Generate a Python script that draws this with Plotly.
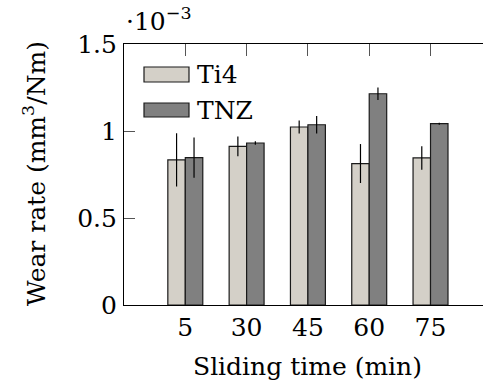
import plotly.graph_objects as go

# Data (wear rate in units of 1e-3 mm^3/Nm)
categories = ["5", "30", "45", "60", "75"]
ti4 = [0.834, 0.912, 1.023, 0.813, 0.845]
ti4_err = [0.153, 0.057, 0.038, 0.112, 0.068]
tnz = [0.847, 0.931, 1.036, 1.214, 1.042]
tnz_err = [0.115, 0.010, 0.050, 0.036, 0.006]
series_names = ["Ti4", "TNZ"]
y_ticks = [0, 0.5, 1, 1.5]
y_ticklabels = ["0", "0.5", "1", "1.5"]

FONT = "DejaVu Serif"
FS = 25
C_TI4 = "#d4d0c8"
C_TNZ = "#808080"
EDGE = "#1a1a1a"

fig = go.Figure()
for name, vals, errs, col in [(series_names[0], ti4, ti4_err, C_TI4),
                              (series_names[1], tnz, tnz_err, C_TNZ)]:
    fig.add_trace(go.Bar(
        x=categories, y=vals, name=name,
        marker=dict(color=col, line=dict(color=EDGE, width=1.2)),
        error_y=dict(type="data", array=errs, visible=True, color="black",
                     thickness=1.2, width=0),
        showlegend=False,
    ))

W, H = 483, 385
L, R, T, B = 124, 0, 44, 80
pw, ph = W - L - R, H - T - B

def px(x):
    return (x - L) / pw

def py(y):
    return (H - B - y) / ph

fig.update_layout(
    width=W, height=H,
    margin=dict(l=L, r=R, t=T, b=B, pad=0),
    paper_bgcolor="white", plot_bgcolor="white",
    barmode="group", bargap=0.43, bargroupgap=0,
    font=dict(family=FONT, size=FS, color="black"),
    xaxis=dict(
        type="category", range=[-1, 4.856],
        showline=True, linecolor="black", linewidth=1.2,
        mirror="ticks", ticks="inside", ticklen=12, tickcolor="#555555",
        tickwidth=1, showgrid=False, zeroline=False,
        tickfont=dict(family=FONT, size=FS), ticklabelstandoff=0,
        layer="below traces",
    ),
    yaxis=dict(
        range=[0, 1.5], tickvals=y_ticks, ticktext=y_ticklabels,
        showline=True, linecolor="black", linewidth=1.2,
        ticks="inside", ticklen=11, tickcolor="#555555", tickwidth=1,
        showgrid=False, zeroline=False,
        tickfont=dict(family=FONT, size=FS), ticklabelstandoff=1,
        layer="below traces",
    ),
)

# Legend (manual, to match the wide patches)
fig.add_shape(type="rect", xref="paper", yref="paper",
              x0=px(144), x1=px(189), y0=py(82), y1=py(67),
              fillcolor=C_TI4, line=dict(color=EDGE, width=1.2))
fig.add_shape(type="rect", xref="paper", yref="paper",
              x0=px(144), x1=px(189), y0=py(117), y1=py(103),
              fillcolor=C_TNZ, line=dict(color=EDGE, width=1.2))
fig.add_annotation(xref="paper", yref="paper", x=px(195), y=py(74),
                   text=series_names[0], showarrow=False,
                   xanchor="left", yanchor="middle",
                   font=dict(family=FONT, size=FS))
fig.add_annotation(xref="paper", yref="paper", x=px(195), y=py(110),
                   text=series_names[1], showarrow=False,
                   xanchor="left", yanchor="middle",
                   font=dict(family=FONT, size=FS))

# Axis titles
fig.add_annotation(xref="paper", yref="paper", x=px(34), y=py(174),
                   text="Wear rate (mm<sup>3</sup>/Nm)", textangle=-90,
                   showarrow=False, xanchor="center", yanchor="middle",
                   font=dict(family=FONT, size=FS))
fig.add_annotation(xref="paper", yref="paper", x=px(307), y=py(366),
                   text="Sliding time (min)", showarrow=False,
                   xanchor="center", yanchor="middle",
                   font=dict(family=FONT, size=FS))
# Scale factor
fig.add_annotation(xref="paper", yref="paper", x=px(124), y=py(20),
                   text="·10<sup>−3</sup>", showarrow=False,
                   xanchor="left", yanchor="middle",
                   font=dict(family=FONT, size=FS))

fig.write_html("out.html")
